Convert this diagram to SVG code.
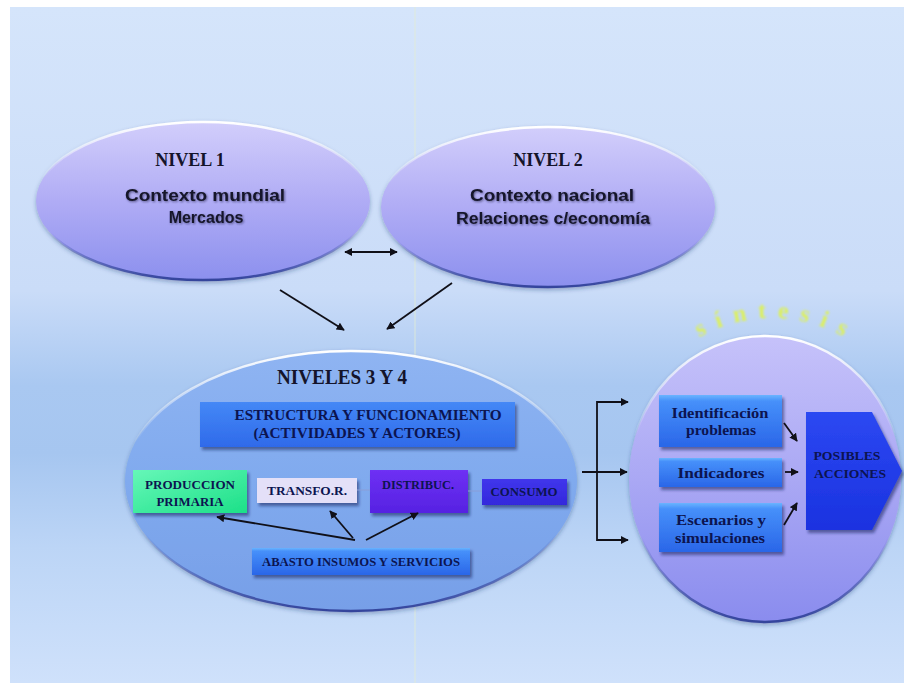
<svg xmlns="http://www.w3.org/2000/svg" width="904" height="683" viewBox="0 0 904 683">
  <defs>
    <linearGradient id="bg" x1="0" y1="0" x2="0" y2="1">
      <stop offset="0" stop-color="#d5e5fb"/>
      <stop offset="0.42" stop-color="#cadcf8"/>
      <stop offset="0.56" stop-color="#a9c8f1"/>
      <stop offset="0.66" stop-color="#a6c6f0"/>
      <stop offset="0.8" stop-color="#bcd5f6"/>
      <stop offset="1" stop-color="#cfe1fb"/>
    </linearGradient>
    <linearGradient id="lav" x1="0" y1="0" x2="0" y2="1">
      <stop offset="0" stop-color="#d2cefb"/>
      <stop offset="0.5" stop-color="#b0acf5"/>
      <stop offset="1" stop-color="#8c90ee"/>
    </linearGradient>
    <linearGradient id="rim" x1="0" y1="0" x2="0" y2="1">
      <stop offset="0" stop-color="#ffffff"/>
      <stop offset="0.35" stop-color="#ffffff" stop-opacity="0"/>
      <stop offset="0.7" stop-color="#3c4ca8" stop-opacity="0"/>
      <stop offset="1" stop-color="#34449c"/>
    </linearGradient>
    <linearGradient id="core" x1="0" y1="0" x2="0" y2="1">
      <stop offset="0" stop-color="#8fb4f2"/>
      <stop offset="0.5" stop-color="#80aaee"/>
      <stop offset="1" stop-color="#779fe8"/>
    </linearGradient>
    <linearGradient id="synth" x1="0" y1="0" x2="0" y2="1">
      <stop offset="0" stop-color="#c6c2fa"/>
      <stop offset="0.5" stop-color="#aaa8f4"/>
      <stop offset="1" stop-color="#8a8cee"/>
    </linearGradient>
    <linearGradient id="blue" x1="0" y1="0" x2="0" y2="1">
      <stop offset="0" stop-color="#6ab4ff"/>
      <stop offset="0.12" stop-color="#4690fa"/>
      <stop offset="1" stop-color="#2a66e8"/>
    </linearGradient>
    <linearGradient id="blueFlat" x1="0" y1="0" x2="0" y2="1">
      <stop offset="0" stop-color="#4488f6"/>
      <stop offset="1" stop-color="#2f6aea"/>
    </linearGradient>
    <linearGradient id="green" x1="0" y1="0" x2="1" y2="1">
      <stop offset="0" stop-color="#66f7b8"/>
      <stop offset="1" stop-color="#1ce088"/>
    </linearGradient>
    <linearGradient id="violet" x1="0" y1="0" x2="0" y2="1">
      <stop offset="0" stop-color="#6e30f4"/>
      <stop offset="1" stop-color="#5622e2"/>
    </linearGradient>
    <linearGradient id="indigo" x1="0" y1="0" x2="0" y2="1">
      <stop offset="0" stop-color="#4036ec"/>
      <stop offset="1" stop-color="#3328dc"/>
    </linearGradient>
    <linearGradient id="action" x1="0" y1="0" x2="0" y2="1">
      <stop offset="0" stop-color="#2c48f2"/>
      <stop offset="1" stop-color="#1a32e0"/>
    </linearGradient>
    <filter id="shadow" x="-10%" y="-20%" width="125%" height="150%">
      <feDropShadow dx="2" dy="3" stdDeviation="1.5" flood-color="#10205a" flood-opacity="0.55"/>
    </filter>
    <filter id="soft" x="-5%" y="-5%" width="110%" height="115%">
      <feDropShadow dx="0" dy="2" stdDeviation="2" flood-color="#20306a" flood-opacity="0.35"/>
    </filter>
    <filter id="tshadow" x="-5%" y="-20%" width="110%" height="150%">
      <feDropShadow dx="1" dy="1" stdDeviation="0.8" flood-color="#202040" flood-opacity="0.6"/>
    </filter>
    <filter id="glow" x="-10%" y="-30%" width="120%" height="160%">
      <feGaussianBlur stdDeviation="0.9"/>
    </filter>
    <marker id="ah" viewBox="0 0 10 10" refX="9" refY="5" markerWidth="4.5" markerHeight="4.5" orient="auto-start-reverse">
      <path d="M0,0 L10,5 L0,10 z" fill="#101018"/>
    </marker>
    <path id="arc" d="M 627,463 A 145 145 0 0 1 917,463"/>
    <style>
      .head { font-family: "Liberation Serif", "Times New Roman", serif; font-weight: bold; fill: #14142a; }
      .sans { font-family: "Liberation Sans", Arial, sans-serif; font-weight: bold; fill: #14142a; font-size: 16px; }
      .lbl { font-family: "Liberation Serif", "Times New Roman", serif; font-weight: bold; fill: #0c1450; font-size: 12px; text-anchor: middle; }
      .big { font-size: 14px; }
      .mid { font-size: 15px; }
      .edge { fill: none; stroke: #101018; stroke-width: 1.8; }
      .link { fill: none; stroke: #8a9ed8; stroke-width: 1; }
    </style>
  </defs>

  <!-- page -->
  <rect x="0" y="0" width="904" height="683" fill="#ffffff"/>
  <rect x="10" y="7" width="894" height="676" fill="url(#bg)"/>
  <line x1="415" y1="7" x2="415" y2="683" stroke="#e2ecd4" stroke-width="1.5" opacity="0.55"/>

  <!-- level 1 -->
  <g id="nivel1">
    <ellipse cx="203" cy="201" rx="167" ry="79" fill="url(#lav)" stroke="url(#rim)" stroke-width="2.5" filter="url(#soft)"/>
    <text class="head" x="190" y="166" font-size="18" text-anchor="middle">NIVEL 1</text>
    <g filter="url(#tshadow)">
      <text class="sans" x="205" y="201" text-anchor="middle" textLength="160" lengthAdjust="spacingAndGlyphs">Contexto mundial</text>
      <text class="sans" x="206" y="223" text-anchor="middle">Mercados</text>
    </g>
  </g>

  <!-- level 2 -->
  <g id="nivel2">
    <ellipse cx="548" cy="207" rx="167" ry="80" fill="url(#lav)" stroke="url(#rim)" stroke-width="2.5" filter="url(#soft)"/>
    <text class="head" x="548" y="166" font-size="18" text-anchor="middle">NIVEL 2</text>
    <g filter="url(#tshadow)">
      <text class="sans" x="552" y="201" text-anchor="middle" textLength="164" lengthAdjust="spacingAndGlyphs">Contexto nacional</text>
      <text class="sans" x="553" y="224" text-anchor="middle" textLength="194" lengthAdjust="spacingAndGlyphs">Relaciones c/economía</text>
    </g>
  </g>

  <!-- levels 3 and 4 -->
  <g id="niveles34">
    <ellipse cx="351" cy="481" rx="226" ry="130" fill="url(#core)" stroke="url(#rim)" stroke-width="2.5" filter="url(#soft)"/>
    <text class="head" x="342" y="384" font-size="20" text-anchor="middle" textLength="130" lengthAdjust="spacingAndGlyphs">NIVELES 3 Y 4</text>
  </g>

  <g id="estructura">
    <rect x="200" y="402" width="315" height="45" fill="url(#blueFlat)" filter="url(#shadow)"/>
    <text class="lbl big" x="368" y="420" textLength="267" lengthAdjust="spacingAndGlyphs">ESTRUCTURA Y FUNCIONAMIENTO</text>
    <text class="lbl big" x="357" y="438" textLength="207" lengthAdjust="spacingAndGlyphs">(ACTIVIDADES Y ACTORES)</text>
  </g>

  <g id="produccion">
    <rect x="133" y="470" width="114" height="43" fill="url(#green)" filter="url(#shadow)"/>
    <text class="lbl" x="190" y="489" textLength="90" lengthAdjust="spacingAndGlyphs">PRODUCCION</text>
    <text class="lbl" x="190" y="506" textLength="67" lengthAdjust="spacingAndGlyphs">PRIMARIA</text>
  </g>

  <g id="transfor">
    <rect x="257" y="478" width="100" height="25" fill="#e4e0f8" filter="url(#shadow)"/>
    <text class="lbl" x="307" y="495" textLength="80" lengthAdjust="spacingAndGlyphs">TRANSFO.R.</text>
  </g>

  <g id="distribuc">
    <rect x="370" y="470" width="98" height="43" fill="url(#violet)" filter="url(#shadow)"/>
    <text class="lbl" x="418" y="489" textLength="72" lengthAdjust="spacingAndGlyphs">DISTRIBUC.</text>
  </g>

  <g id="consumo">
    <rect x="482" y="479" width="85" height="26" fill="url(#indigo)" filter="url(#shadow)"/>
    <text class="lbl" x="524" y="496" textLength="67" lengthAdjust="spacingAndGlyphs">CONSUMO</text>
  </g>

  <g id="abasto">
    <rect x="252" y="548" width="218" height="27" fill="url(#blue)" filter="url(#shadow)"/>
    <text class="lbl" x="361" y="566" textLength="198" lengthAdjust="spacingAndGlyphs">ABASTO INSUMOS Y SERVICIOS</text>
  </g>

  <!-- synthesis -->
  <g id="sintesis">
    <text font-family="Liberation Serif, serif" font-weight="bold" font-size="24" fill="#dcf060" letter-spacing="11" filter="url(#glow)">
      <textPath href="#arc" startOffset="51%" text-anchor="middle">síntesis</textPath>
    </text>
    <ellipse cx="765" cy="479" rx="136" ry="143" fill="url(#synth)" stroke="url(#rim)" stroke-width="2.5" filter="url(#soft)"/>
  </g>

  <g id="identificacion">
    <rect x="659" y="395" width="123" height="52" fill="url(#blue)" filter="url(#shadow)"/>
    <text class="lbl mid" x="720" y="418" textLength="97" lengthAdjust="spacingAndGlyphs">Identificación</text>
    <text class="lbl mid" x="721" y="435" textLength="70" lengthAdjust="spacingAndGlyphs">problemas</text>
  </g>

  <g id="indicadores">
    <rect x="659" y="458" width="123" height="29" fill="url(#blue)" filter="url(#shadow)"/>
    <text class="lbl mid" x="721" y="478" textLength="87" lengthAdjust="spacingAndGlyphs">Indicadores</text>
  </g>

  <g id="escenarios">
    <rect x="659" y="503" width="123" height="49" fill="url(#blue)" filter="url(#shadow)"/>
    <text class="lbl mid" x="721" y="525" textLength="90" lengthAdjust="spacingAndGlyphs">Escenarios y</text>
    <text class="lbl mid" x="720" y="543" textLength="90" lengthAdjust="spacingAndGlyphs">simulaciones</text>
  </g>

  <g id="acciones">
    <polygon points="806,412 872,412 902,471 872,530 806,530" fill="url(#action)" filter="url(#shadow)"/>
    <text class="lbl" x="847" y="460" font-size="13" textLength="67" lengthAdjust="spacingAndGlyphs">POSIBLES</text>
    <text class="lbl" x="850" y="478" font-size="13" textLength="72" lengthAdjust="spacingAndGlyphs">ACCIONES</text>
  </g>

  <!-- connectors -->
  <g id="connectors">
    <line class="edge" x1="345" y1="252" x2="397" y2="252" marker-start="url(#ah)" marker-end="url(#ah)"/>
    <line class="edge" x1="280" y1="290" x2="344" y2="330" marker-end="url(#ah)"/>
    <line class="edge" x1="452" y1="283" x2="387" y2="329" marker-end="url(#ah)"/>

    <line class="link" x1="357" y1="490" x2="370" y2="490"/>
    <line class="link" x1="468" y1="491" x2="482" y2="491"/>

    <line class="edge" x1="355" y1="540" x2="217" y2="517" stroke-width="2.2" marker-end="url(#ah)"/>
    <line class="edge" x1="353" y1="538" x2="330" y2="511" marker-end="url(#ah)"/>
    <line class="edge" x1="366" y1="540" x2="418" y2="513" marker-end="url(#ah)"/>

    <line class="edge" x1="582" y1="472" x2="627" y2="472" marker-end="url(#ah)"/>
    <polyline class="edge" points="627,402 597,402 597,540 627,540"/>
    <line class="edge" x1="610" y1="402" x2="628" y2="402" marker-end="url(#ah)"/>
    <line class="edge" x1="610" y1="540" x2="628" y2="540" marker-end="url(#ah)"/>

    <line class="edge" x1="784" y1="423" x2="797" y2="441" stroke-width="1.6" marker-end="url(#ah)"/>
    <line class="edge" x1="785" y1="472" x2="798" y2="472" stroke-width="1.6" marker-end="url(#ah)"/>
    <line class="edge" x1="784" y1="525" x2="797" y2="503" stroke-width="1.6" marker-end="url(#ah)"/>
  </g>
</svg>
